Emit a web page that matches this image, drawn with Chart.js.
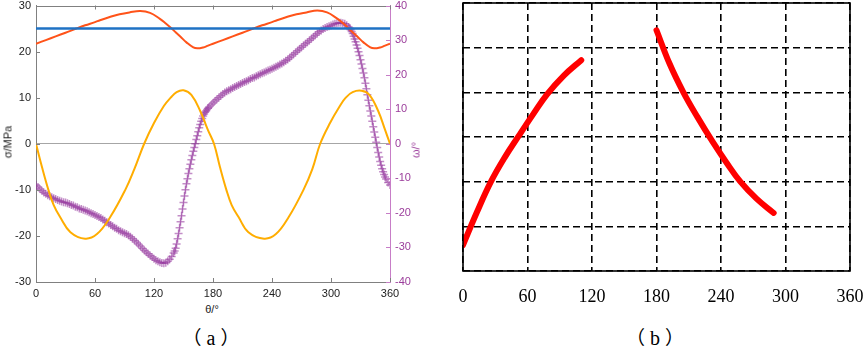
<!DOCTYPE html>
<html>
<head>
<meta charset="utf-8">
<script src="https://cdn.jsdelivr.net/npm/chart.js@4.4.1/dist/chart.umd.min.js"></script>
<style>
  html, body { margin: 0; padding: 0; background: #fff; }
  body { width: 865px; height: 350px; position: relative; overflow: hidden; font-family: "Liberation Sans", Arial, sans-serif; }
  #chartA { position: absolute; left: 0; top: 0; }
  #chartB { position: absolute; left: 440px; top: 0; }
  .lbl { position: absolute; transform: translate(-50%, -50%); white-space: nowrap; line-height: 1; }
  .small { font-size: 11px; color: #222; }
  .rot { transform: translate(-50%, -50%) rotate(-90deg); }
  .cap { font-family: "Liberation Serif", serif; font-size: 20px; color: #000; }
  .cjk { font-family: "Noto Sans CJK SC", "Noto Sans CJK JP", sans-serif; font-size: 19px; }
  .mid { display: inline-block; margin: 0 5px; }
</style>
</head>
<body>
<canvas id="chartA" width="430" height="300"></canvas>
<canvas id="chartB" width="425" height="320"></canvas>

<div class="lbl small rot" style="left:8px; top:142px;">σ/MPa</div>
<div class="lbl small rot" style="left:416px; top:150px; color:#9b3d9b;">ω/°</div>
<div class="lbl small" style="left:212px; top:309px;">θ/°</div>
<div class="lbl cap" style="left:211px; top:337px;"><span class="cjk">（</span><span class="mid">a</span><span class="cjk">）</span></div>
<div class="lbl cap" style="left:655px; top:337px;"><span class="cjk">（</span><span class="mid">b</span><span class="cjk">）</span></div>

<script>
// ---- (a) stress curves, sigma in MPa ----
const sigma0Theta = [0, 360];
const sigma0 = [25, 25];

const sigma1Theta = [0, 10, 20, 30, 41, 50, 60, 65, 75, 85, 95, 106, 116, 126, 132, 138, 142, 147, 153, 160, 164, 170, 175, 180,
  190, 200, 210, 221, 230, 240, 245, 255, 265, 275, 286, 296, 306, 312, 318, 322, 327, 333, 340, 344, 350, 355, 360];
const sigma1 = [21.7, 22.5, 23.3, 24.1, 25.0, 25.7, 26.4, 26.8, 27.5, 28.1, 28.5, 28.8, 28.4, 27.1, 26.1, 25.0, 24.2, 23.2, 22.0, 20.9, 20.7, 20.9, 21.3, 21.7,
  22.5, 23.3, 24.1, 25.0, 25.7, 26.4, 26.8, 27.5, 28.1, 28.5, 28.9, 28.5, 27.2, 26.2, 25.0, 24.2, 23.2, 22.0, 20.9, 20.7, 20.9, 21.3, 21.7];

const sigma2Theta = [0, 6, 12.6, 18, 24.5, 35, 50, 62, 75.5, 90.8, 100, 110, 120, 130, 137, 143, 150, 158, 167, 175, 181,
  187, 193.6, 199, 206, 216, 232, 244, 257, 272, 281, 289, 299, 309, 315, 322, 331, 339, 348, 355, 360];
const sigma2 = [0, -5, -10, -13.3, -15.9, -19.2, -20.6, -19.6, -15.9, -10, -5.5, 0, 4.5, 8.2, 10.0, 11.2, 11.6, 10.6, 7.1, 2.9, 0,
  -5, -10, -13.3, -15.9, -19.2, -20.6, -19.6, -15.9, -10, -5.5, 0, 4.5, 8.2, 10.0, 11.2, 11.5, 10.6, 7.1, 3.0, 0];

// ---- (a) rotation angle omega in degrees ----
const omegaTheta = [0, 2, 4, 6, 8, 10, 12, 14, 16, 18, 20, 22, 24, 26, 28, 30, 32, 34, 36, 38, 40, 42, 44, 46, 48,
  50, 52, 54, 56, 58, 60, 62, 64, 66, 68, 70, 72, 74, 76, 78, 80, 82, 84, 86, 88, 90, 92, 94, 96, 98,
  100, 102, 104, 106, 108, 110, 112, 114, 116, 118, 120, 122, 124, 126, 128, 130, 132, 134, 136, 138,
  140, 141, 142, 143, 144, 145, 146, 147, 148, 149, 150, 151, 152, 153, 154, 155, 156, 157, 158, 159,
  160, 161, 162, 163, 164, 165, 166, 167, 168, 169, 170, 171, 172, 173, 174, 175, 176,
  178, 180, 182, 184, 186, 188, 190, 192, 194, 196, 198, 200, 202, 204, 206, 208, 210, 212, 214, 216, 218,
  220, 222, 224, 226, 228, 230, 232, 234, 236, 238, 240, 242, 244, 246, 248, 250, 252, 254, 256, 258,
  260, 262, 264, 266, 268, 270, 272, 274, 276, 278, 280, 282, 284, 286, 288, 290, 292, 294, 296, 298,
  300, 302, 304, 306, 308, 310, 312, 314, 316,
  318, 319, 320, 321, 322, 323, 324, 325, 326, 327, 328, 329, 330, 331, 332, 333, 334, 335, 336, 337,
  338, 339, 340, 341, 342, 343, 344, 345, 346, 347, 348, 349, 350, 351, 352, 353, 354, 355, 356, 358, 360];
const omega = [-11.9, -12.5, -13.1, -13.6, -14.1, -14.5, -14.9, -15.2, -15.5, -15.8, -16.0, -16.3, -16.5, -16.7, -16.9, -17.0, -17.2, -17.4, -17.7, -17.9, -18.2, -18.4, -18.7, -18.9, -19.1,
  -19.3, -19.5, -19.8, -20.1, -20.3, -20.6, -20.9, -21.2, -21.5, -21.9, -22.3, -22.7, -23.1, -23.5, -23.9, -24.3, -24.6, -25.0, -25.3, -25.6, -25.9, -26.1, -26.5, -26.9, -27.4,
  -27.9, -28.4, -29.0, -29.6, -30.2, -30.8, -31.3, -31.8, -32.3, -32.8, -33.3, -33.7, -34.0, -34.3, -34.5, -34.6, -34.4, -34.0, -33.4, -32.6,
  -31.6, -31.0, -30.2, -29.0, -27.5, -26.0, -24.3, -22.6, -20.8, -18.9, -17.0, -15.1, -13.3, -11.6, -10.1, -8.6, -7.2, -5.9, -4.6, -3.4,
  -2.2, -1.1, 0.0, 1.2, 2.3, 3.5, 4.6, 5.6, 6.5, 7.3, 8.0, 8.6, 9.1, 9.5, 9.9, 10.3, 10.6,
  11.2, 11.8, 12.4, 12.9, 13.4, 13.9, 14.4, 14.8, 15.2, 15.5, 15.8, 16.1, 16.4, 16.7, 17.0, 17.3, 17.6, 17.9, 18.1, 18.4, 18.7,
  19.0, 19.2, 19.5, 19.8, 20.1, 20.4, 20.6, 20.9, 21.2, 21.4, 21.7, 22.0, 22.3, 22.6, 22.9, 23.2, 23.6, 24.0, 24.4, 24.9,
  25.4, 25.9, 26.4, 26.9, 27.4, 27.9, 28.4, 28.9, 29.4, 29.9, 30.4, 30.9, 31.4, 31.9, 32.4, 32.8, 33.2, 33.5, 33.8, 34.0,
  34.2, 34.5, 34.7, 34.9, 35.0, 35.0, 34.9, 34.7, 34.3,
  33.8, 33.4, 33.0, 32.5, 31.9, 31.1, 30.3, 29.5, 28.6, 27.6, 26.6, 25.5, 24.3, 23.1, 21.8, 20.5, 19.1, 17.5, 15.9, 14.2,
  12.6, 11.0, 9.5, 8.0, 6.5, 4.9, 3.4, 1.9, 0.4, -1.1, -2.5, -3.8, -5.1, -6.2, -7.2, -8.1, -8.9, -9.6, -10.2, -11.2, -11.9];

// ---- (b) two branches ----
const branch1Theta = [0, 13, 26, 39, 52, 65, 78, 94, 110];
const branch1 = [0.58, 1.32, 2.0, 2.55, 3.03, 3.5, 3.95, 4.38, 4.72];
const branch2Theta = [180, 192, 205, 218, 232, 245, 258, 273, 289];
const branch2 = [5.39, 4.65, 4.0, 3.45, 2.9, 2.43, 2.0, 1.62, 1.3];

const thetaTicksStep = 60;

const sansFont = { family: "'Liberation Sans', Arial, sans-serif", size: 11 };
const serifFont = { family: "'Liberation Serif', 'Times New Roman', serif", size: 18 };
const purple = '#9b3d9b';
const purpleAxis = '#c77dc7';

const pts = (xs, ys) => xs.map((x, i) => ({ x: x, y: ys[i] }));

function noPad(s) {
  s.paddingTop = 0; s.paddingBottom = 0; s.paddingLeft = 0; s.paddingRight = 0;
}

function seg(ctx, x1, y1, x2, y2) {
  ctx.beginPath();
  ctx.moveTo(x1, y1);
  ctx.lineTo(x2, y2);
  ctx.stroke();
}

// inward tick marks and top frame line for (a)
const innerTicks = {
  id: 'innerTicks',
  afterDraw(chart) {
    const { ctx, chartArea: a, scales } = chart;
    const L = 4;
    ctx.save();
    ctx.lineWidth = 1;
    ctx.strokeStyle = '#808080';
    seg(ctx, a.left, Math.round(a.top) + 0.5, a.right, Math.round(a.top) + 0.5);
    scales.x.ticks.forEach(t => {
      const px = Math.round(scales.x.getPixelForValue(t.value)) + 0.5;
      seg(ctx, px, a.bottom, px, a.bottom - L);
      seg(ctx, px, a.top, px, a.top + L);
    });
    scales.y.ticks.forEach(t => {
      const py = Math.round(scales.y.getPixelForValue(t.value)) + 0.5;
      seg(ctx, a.left, py, a.left + L, py);
    });
    ctx.strokeStyle = purpleAxis;
    scales.y1.ticks.forEach(t => {
      const py = Math.round(scales.y1.getPixelForValue(t.value)) + 0.5;
      seg(ctx, a.right, py, a.right - L, py);
    });
    ctx.restore();
  }
};

// solid frame for (b)
const frame = {
  id: 'frame',
  afterDraw(chart) {
    const { ctx, chartArea: a } = chart;
    ctx.save();
    ctx.lineWidth = 1.6;
    ctx.strokeStyle = '#000';
    ctx.strokeRect(a.left, a.top, a.right - a.left, a.bottom - a.top);
    ctx.restore();
  }
};

new Chart(document.getElementById('chartA'), {
  type: 'line',
  data: {
    datasets: [
      {
        label: 'σ0',
        data: pts(sigma0Theta, sigma0),
        borderColor: '#1f72c4',
        borderWidth: 2.5,
        pointRadius: 0,
        yAxisID: 'y'
      },
      {
        label: 'σ1',
        data: pts(sigma1Theta, sigma1),
        borderColor: '#ff5319',
        borderWidth: 2,
        pointRadius: 0,
        tension: 0.4,
        yAxisID: 'y'
      },
      {
        label: 'σ2',
        data: pts(sigma2Theta, sigma2),
        borderColor: '#ffad00',
        borderWidth: 2,
        pointRadius: 0,
        tension: 0.4,
        yAxisID: 'y'
      },
      {
        label: 'ω',
        data: pts(omegaTheta, omega),
        borderColor: 'rgba(145, 50, 155, 0.45)',
        borderWidth: 1.2,
        pointStyle: 'cross',
        pointRadius: 4,
        pointBorderWidth: 1.5,
        pointBorderColor: 'rgba(145, 50, 155, 0.55)',
        yAxisID: 'y1'
      }
    ]
  },
  options: {
    responsive: false,
    animation: false,
    events: [],
    layout: { padding: { top: 4, left: 0, right: 0, bottom: 0 } },
    plugins: { legend: { display: false }, tooltip: { enabled: false } },
    scales: {
      x: {
        type: 'linear', min: 0, max: 360,
        ticks: { stepSize: thetaTicksStep, font: sansFont, color: '#222', padding: 5, maxRotation: 0 },
        grid: { display: false, drawTicks: false },
        border: { display: true, color: '#808080', width: 1 },
        afterFit(s) { s.height = 18; noPad(s); }
      },
      y: {
        position: 'left', min: -30, max: 30,
        ticks: { stepSize: 10, font: sansFont, color: '#222', padding: 5 },
        grid: {
          drawTicks: false,
          color: c => (c.tick && c.tick.value === 0 ? '#a6a6a6' : 'rgba(0,0,0,0)'),
          lineWidth: 1
        },
        border: { display: true, color: '#808080', width: 1 },
        afterFit(s) { s.width = 36; noPad(s); }
      },
      y1: {
        position: 'right', min: -40, max: 40,
        ticks: { stepSize: 10, font: sansFont, color: purple, padding: 5 },
        grid: { display: false, drawTicks: false, drawOnChartArea: false },
        border: { display: true, color: purpleAxis, width: 1 },
        afterFit(s) { s.width = 40; noPad(s); }
      }
    }
  },
  plugins: [innerTicks]
});

new Chart(document.getElementById('chartB'), {
  type: 'line',
  data: {
    datasets: [
      {
        data: pts(branch1Theta, branch1),
        borderColor: '#ff0000',
        borderWidth: 6,
        borderCapStyle: 'round',
        pointRadius: 0,
        tension: 0.4
      },
      {
        data: pts(branch2Theta, branch2),
        borderColor: '#ff0000',
        borderWidth: 6,
        borderCapStyle: 'round',
        pointRadius: 0,
        tension: 0.4
      }
    ]
  },
  options: {
    responsive: false,
    animation: false,
    events: [],
    layout: { padding: { top: 3, left: 0, right: 15, bottom: 0 } },
    plugins: { legend: { display: false }, tooltip: { enabled: false } },
    scales: {
      x: {
        type: 'linear', min: 0, max: 360,
        ticks: { stepSize: thetaTicksStep, font: serifFont, color: '#000', padding: 15, maxRotation: 0 },
        grid: { drawTicks: false, color: '#000', lineWidth: 1.6 },
        border: { display: false, dash: [7, 4] },
        afterFit(s) { s.height = 49; noPad(s); }
      },
      y: {
        min: 0, max: 6,
        ticks: { stepSize: 1, display: false },
        grid: { drawTicks: false, color: '#000', lineWidth: 1.6 },
        border: { display: false, dash: [7, 4] },
        afterFit(s) { s.width = 23; noPad(s); }
      }
    }
  },
  plugins: [frame]
});
</script>
</body>
</html>
